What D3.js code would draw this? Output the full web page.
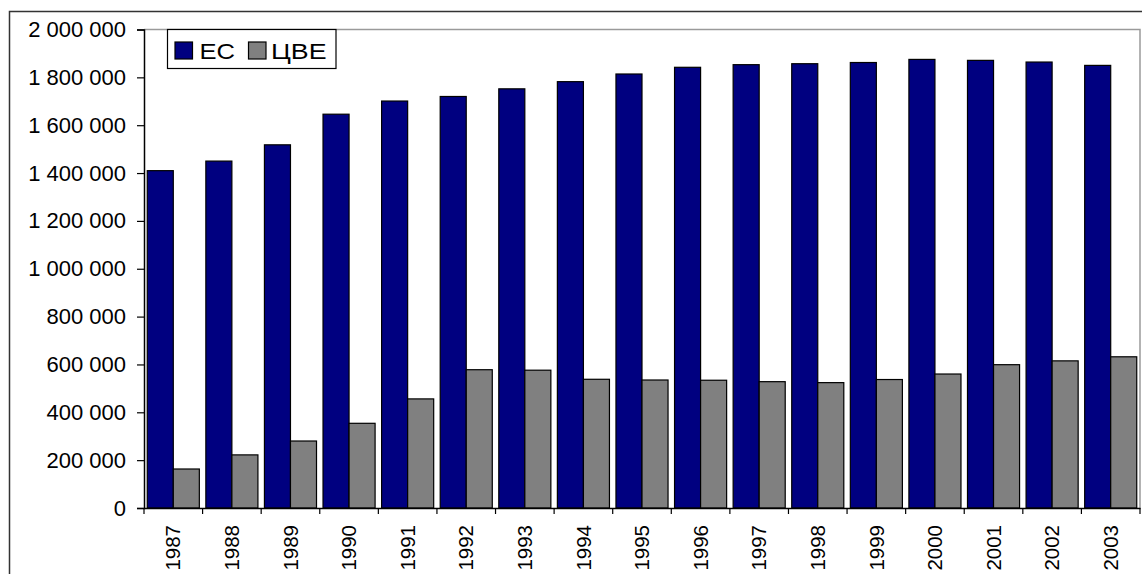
<!DOCTYPE html>
<html><head><meta charset="utf-8">
<script src="https://cdn.jsdelivr.net/npm/d3@7"></script>
<style>
html,body{margin:0;padding:0;background:#fff;}
svg{display:block;font-family:"Liberation Sans",Arial,sans-serif;}
</style></head>
<body>
<svg id="chart" width="1142" height="574"></svg>
<script>
const years = ["1987","1988","1989","1990","1991","1992","1993","1994","1995","1996","1997","1998","1999","2000","2001","2002","2003"];
const seriesNames = ["ЕС","ЦВЕ"];
const ecValues = [1410000,1450000,1518000,1646000,1701000,1720000,1752000,1782000,1814000,1842000,1853000,1857000,1862000,1875000,1871000,1864000,1850000];
const cveValues = [163000,222000,280000,354000,456000,578000,576000,538000,535000,534000,528000,524000,537000,560000,599000,615000,632000];
const yTicks = [0,200000,400000,600000,800000,1000000,1200000,1400000,1600000,1800000,2000000];
const colors = {"ЕС":"#000080","ЦВЕ":"#808080"};

const svg = d3.select("#chart");
const mLeft = 144, mRight = 1140, mTop = 29.5, mBottom = 508;

// outer frame
svg.append("rect").attr("x",9.5).attr("y",11.5).attr("width",1140).attr("height",580)
  .attr("fill","none").attr("stroke","#333").attr("stroke-width",1.5);

const x = d3.scaleBand().domain(years).range([mLeft,mRight]).padding(0);
const xs = d3.scaleBand().domain(seriesNames).range([0,x.bandwidth()]).paddingInner(0).paddingOuter(0.125);
const y = d3.scaleLinear().domain([0,2000000]).range([mBottom,mTop]);

// plot area border (top & right)
svg.append("path").attr("d",`M${mLeft},${mTop}H${mRight}V${mBottom}`)
  .attr("fill","none").attr("stroke","#9a9a9a").attr("stroke-width",1.5);

const data = years.map((yr,i)=>({year:yr, vals:[{s:"ЕС",v:ecValues[i]},{s:"ЦВЕ",v:cveValues[i]}]}));

const g = svg.append("g");
g.selectAll("g.grp").data(data).join("g").attr("class","grp")
  .attr("transform",d=>`translate(${x(d.year)},0)`)
  .selectAll("rect").data(d=>d.vals).join("rect")
  .attr("x",d=>xs(d.s)).attr("width",xs.bandwidth())
  .attr("y",d=>y(d.v)).attr("height",d=>y(0)-y(d.v))
  .attr("fill",d=>colors[d.s]).attr("stroke","#000").attr("stroke-width",1.2);

const loc = d3.formatLocale({decimal:",",thousands:"\u00a0",grouping:[3],currency:["",""]});
const fmt = loc.format(",d");

const yAxis = svg.append("g").attr("transform",`translate(${mLeft},0)`)
  .call(d3.axisLeft(y).tickValues(yTicks).tickFormat(fmt).tickSize(7).tickPadding(11));
yAxis.select(".domain").attr("stroke","#000").attr("stroke-width",1.5);
yAxis.selectAll(".tick line").attr("stroke","#000").attr("stroke-width",1.2);
yAxis.selectAll("text").attr("font-size",22).attr("fill","#000")
  .attr("font-family","Liberation Sans, Arial, sans-serif");

const xAxis = svg.append("g").attr("transform",`translate(0,${mBottom})`)
  .call(d3.axisBottom(x).tickSize(0).tickFormat(d=>d));
xAxis.select(".domain").attr("stroke","#000").attr("stroke-width",1.5);
// category boundary ticks
svg.append("g").selectAll("line").data(years.slice(1).concat(["__end"]))
  .join("line")
  .attr("x1",d=>d==="__end"?mRight:x(d)).attr("x2",d=>d==="__end"?mRight:x(d))
  .attr("y1",mBottom).attr("y2",mBottom+6).attr("stroke","#000").attr("stroke-width",1.2);
svg.append("line").attr("x1",mLeft).attr("x2",mLeft).attr("y1",mBottom).attr("y2",mBottom+6)
  .attr("stroke","#000").attr("stroke-width",1.2);
xAxis.selectAll(".tick text")
  .attr("font-size",20.5).attr("fill","#000")
  .attr("font-family","Liberation Sans, Arial, sans-serif")
  .attr("text-anchor","end").attr("dy","0.35em")
  .attr("transform","translate(0,17) rotate(-90)")
  .attr("x",0).attr("y",0);

// legend
const lg = svg.append("g");
lg.append("rect").attr("x",167.5).attr("y",29.5).attr("width",168.5).attr("height",39)
  .attr("fill","#fff").attr("stroke","#000").attr("stroke-width",1.2);
const items = [{s:"ЕС",x:175,tx:199.5,w:35.5},{s:"ЦВЕ",x:248.5,tx:271,w:55.5}];
items.forEach(it=>{
  lg.append("rect").attr("x",it.x).attr("y",42).attr("width",17.5).attr("height",17)
    .attr("fill",colors[it.s]).attr("stroke","#000").attr("stroke-width",1.2);
  lg.append("text").attr("x",it.tx).attr("y",58.5).text(it.s)
    .attr("font-size",22).attr("fill","#000")
    .attr("textLength",it.w).attr("lengthAdjust","spacingAndGlyphs");
});
</script>
</body></html>
